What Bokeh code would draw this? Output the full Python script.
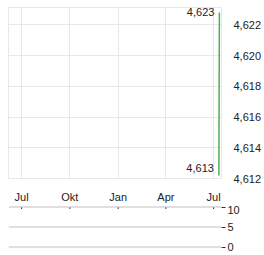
from datetime import datetime
from bokeh.plotting import figure
from bokeh.layouts import column
from bokeh.models import (Range1d, LinearAxis, DatetimeAxis, FixedTicker, Grid, Span,
                          CustomJSTickFormatter, ColumnDataSource)
from bokeh.core.properties import value
from bokeh.embed import file_html
from bokeh.resources import INLINE

# ---- data ----
dates = [datetime(2024, 7, 11), datetime(2024, 7, 12)]
prices = [4.6122, 4.6228]
min_label = "4,613"
max_label = "4,623"
price_ticks = [4.612, 4.614, 4.616, 4.618, 4.620, 4.622]
volume_ticks = [0, 5, 10]
month_ticks = [datetime(2023, 7, 1), datetime(2023, 10, 1), datetime(2024, 1, 1),
               datetime(2024, 4, 1), datetime(2024, 7, 1)]
month_names = ["Jan", "Feb", "Mär", "Apr", "Mai", "Jun", "Jul", "Aug", "Sep", "Okt", "Nov", "Dez"]
x_start = datetime(2023, 6, 6)
x_end = datetime(2024, 7, 16)

FONT = "Liberation Sans"
TXT = "#222222"
GRID = "#e8e8e8"
VGRID = "#c0c0c0"

def ms(d):
    return (d - datetime(1970, 1, 1)).total_seconds() * 1000.0

month_ms = [ms(d) for d in month_ticks]
xr = Range1d(ms(x_start), ms(x_end))

# ---- price panel ----
p = figure(width=264, height=205, x_range=xr,
           y_range=Range1d(4.612, 4.623125),
           x_axis_type=None, y_axis_type=None,
           output_backend="svg", toolbar_location=None,
           min_border_left=8, min_border_top=7, min_border_right=43, min_border_bottom=20)
p.outline_line_color = GRID

xa = DatetimeAxis(ticker=FixedTicker(ticks=month_ms))
xa.formatter = CustomJSTickFormatter(args=dict(names=month_names),
                                     code="return names[new Date(tick).getUTCMonth()];")
xa.axis_line_color = None
xa.major_tick_line_color = None
xa.minor_tick_line_color = None
xa.major_label_standoff = 6
xa.major_label_text_font = FONT
xa.major_label_text_font_size = "11px"
xa.major_label_text_color = TXT
p.add_layout(xa, "below")

ya = LinearAxis(ticker=FixedTicker(ticks=price_ticks))
ya.formatter = CustomJSTickFormatter(code="return tick.toFixed(3).replace('.', ',');")
ya.axis_line_color = None
ya.major_tick_line_color = None
ya.minor_tick_line_color = None
ya.major_label_standoff = 6
ya.major_label_text_font = FONT
ya.major_label_text_font_size = "11px"
ya.major_label_text_color = TXT
p.add_layout(ya, "right")

p.add_layout(Grid(dimension=0, ticker=FixedTicker(ticks=month_ms), grid_line_color=GRID))
p.add_layout(Grid(dimension=1, ticker=FixedTicker(ticks=price_ticks), grid_line_color=GRID))

src = ColumnDataSource(dict(x=[ms(d) for d in dates], y=prices))
p.line("x", "y", source=src, line_color="#4caf50", line_width=1.5)

i_min = prices.index(min(prices))
i_max = prices.index(max(prices))
p.text(x=[ms(dates[i_min])], y=[prices[i_min]], text=[min_label],
       text_align="right", text_baseline="middle", x_offset=-5, y_offset=-7,
       text_font_size="11px", text_color=TXT, text_font=value(FONT))
p.text(x=[ms(dates[i_max])], y=[prices[i_max]], text=[max_label],
       text_align="right", text_baseline="middle", x_offset=-5, y_offset=0,
       text_font_size="11px", text_color=TXT, text_font=value(FONT))

# ---- volume panel ----
v = figure(width=264, height=50, x_range=xr, y_range=Range1d(-0.375, 10.375),
           x_axis_type=None, y_axis_type=None,
           output_backend="svg", toolbar_location=None,
           min_border_left=8, min_border_top=0, min_border_right=43, min_border_bottom=7)
v.outline_line_color = None

vy = LinearAxis(ticker=FixedTicker(ticks=volume_ticks))
vy.axis_line_color = None
vy.major_tick_line_color = "#333333"
vy.major_tick_out = 4
vy.major_tick_in = 0
vy.minor_tick_line_color = None
vy.major_label_standoff = 2
vy.major_label_text_font = FONT
vy.major_label_text_font_size = "11px"
vy.major_label_text_color = TXT
v.add_layout(vy, "right")

for t in volume_ticks:
    v.add_layout(Span(location=t, dimension="width", line_color=VGRID, line_width=1))

# month tick marks hanging below the top volume line
top = max(volume_ticks)
v.segment(x0=month_ms, y0=[top] * len(month_ms), x1=month_ms,
          y1=[top - 0.5] * len(month_ms), line_color="#333333", line_width=1)

layout = column(p, v, spacing=0)
open("out.html", "w").write(file_html(layout, INLINE))
